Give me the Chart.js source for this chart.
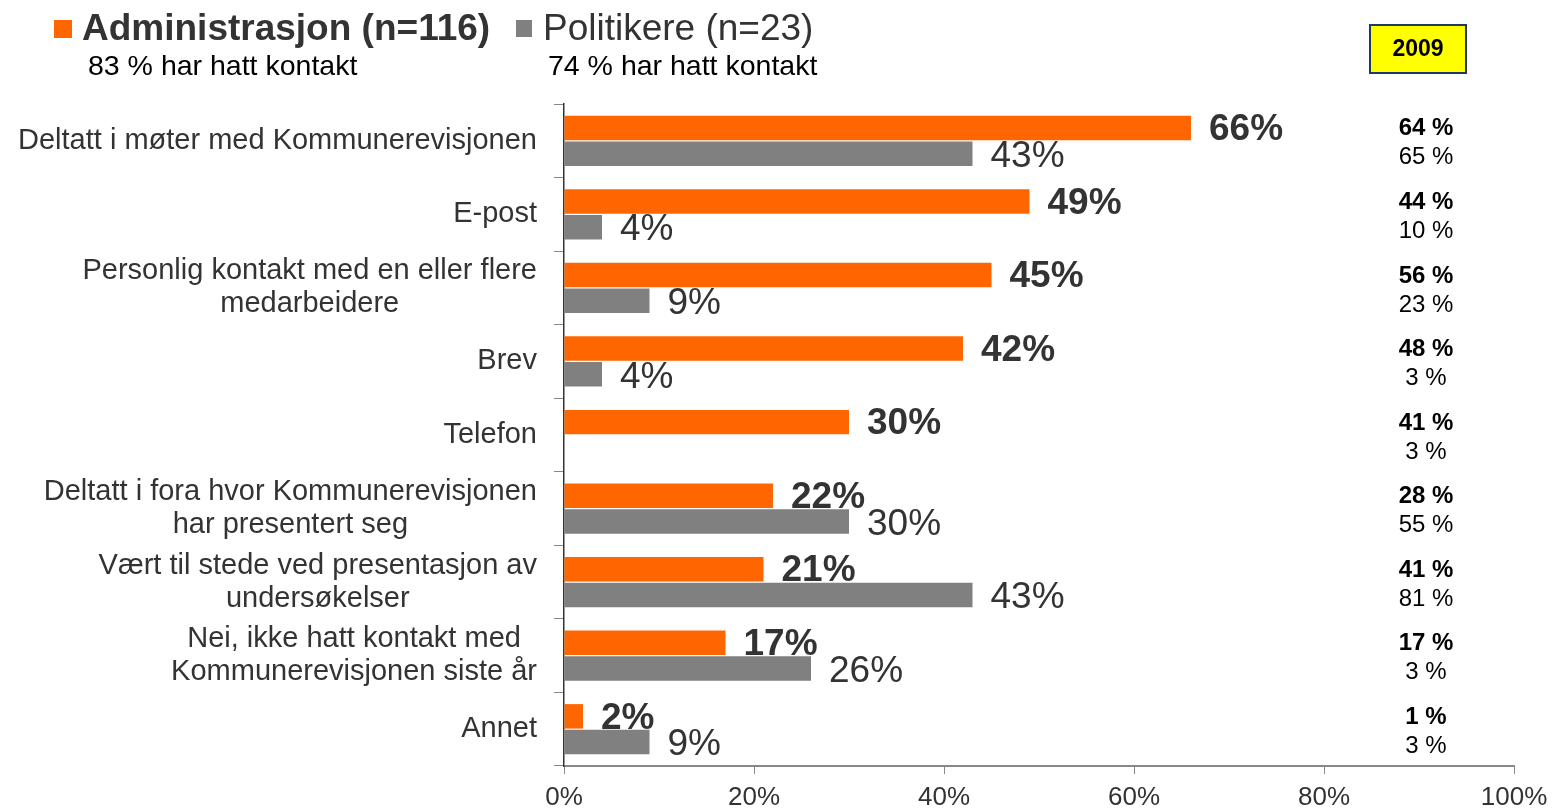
<!DOCTYPE html>
<html>
<head>
<meta charset="utf-8">
<script src="https://cdn.jsdelivr.net/npm/chart.js@4/dist/chart.umd.min.js"></script>
<style>
  html, body { margin: 0; padding: 0; background: #fff; }
  #wrap { width: 1552px; height: 809px; position: relative; }
</style>
</head>
<body>
<div id="wrap"><canvas id="chartKontakt"></canvas></div>
<script>
// === Data ===
const kategorier = [
  "Deltatt i møter med Kommunerevisjonen",
  "E-post",
  ["Personlig kontakt med en eller flere", "medarbeidere"],
  "Brev",
  "Telefon",
  ["Deltatt i fora hvor Kommunerevisjonen", "har presentert seg"],
  ["Vært til stede ved presentasjon av", "undersøkelser"],
  ["Nei, ikke hatt kontakt med ", "Kommunerevisjonen siste år"],
  "Annet"
];
const administrasjon = [66, 49, 45, 42, 30, 22, 21, 17, 2];
const politikere = [43, 4, 9, 4, null, 30, 43, 26, 9];
const admin2009 = [64, 44, 56, 48, 41, 28, 41, 17, 1];
const pol2009 = [65, 10, 23, 3, 3, 55, 81, 3, 3];
const xTicks = [0, 20, 40, 60, 80, 100];

const oransje = "#FF6600";
const graa = "#808080";
const tekst = "#333333";
const fontNavn = "'Liberation Sans', Arial, sans-serif";

// === Tekst, etiketter og 2009-kolonne ===
const tegnTekst = {
  id: "tegnTekst",
  afterDatasetsDraw(chart) {
    const ctx = chart.ctx;
    ctx.save();
    ctx.textBaseline = "middle";
    ctx.textAlign = "left";
    // verdier ved stolpene
    const mA = chart.getDatasetMeta(0);
    const mP = chart.getDatasetMeta(1);
    mA.data.forEach((bar, i) => {
      if (administrasjon[i] == null) return;
      ctx.fillStyle = tekst;
      ctx.font = "bold 37px " + fontNavn;
      ctx.fillText(administrasjon[i] + "%", bar.x + 18, bar.y + 2);
    });
    mP.data.forEach((bar, i) => {
      if (politikere[i] == null) return;
      ctx.fillStyle = tekst;
      ctx.font = "37px " + fontNavn;
      ctx.fillText(politikere[i] + "%", bar.x + 18, bar.y + 3);
    });
    ctx.restore();
  },
  afterDraw(chart) {
    const ctx = chart.ctx;
    const y = chart.scales.y;
    ctx.save();
    ctx.textBaseline = "middle";

    // kategorietiketter (blokk høyrejustert, linjer sentrert)
    ctx.fillStyle = tekst;
    ctx.font = "29px " + fontNavn;
    kategorier.forEach((lab, i) => {
      const linjer = Array.isArray(lab) ? lab : [lab];
      const maks = Math.max(...linjer.map(l => ctx.measureText(l.trim()).width));
      const midt = 537 - maks / 2;
      const cy = y.getPixelForTick(i);
      const lh = 33;
      linjer.forEach((l, j) => {
        ctx.textAlign = "center";
        ctx.fillText(l.trim(), midt, cy + (j - (linjer.length - 1) / 2) * lh);
      });
    });

    // 2009-kolonne
    ctx.textAlign = "center";
    ctx.fillStyle = "#000";
    kategorier.forEach((lab, i) => {
      const cy = y.getPixelForTick(i);
      ctx.font = "bold 24px " + fontNavn;
      ctx.fillText(admin2009[i] + " %", 1426, cy - 12);
      ctx.font = "24px " + fontNavn;
      ctx.fillText(pol2009[i] + " %", 1426, cy + 17);
    });

    // 2009-boks
    ctx.fillStyle = "#FFFF00";
    ctx.fillRect(1370, 25, 96, 48);
    ctx.strokeStyle = "#1F3864";
    ctx.lineWidth = 2;
    ctx.strokeRect(1370, 25, 96, 48);
    ctx.fillStyle = "#000";
    ctx.font = "bold 23px " + fontNavn;
    ctx.fillText("2009", 1418, 50);

    // forklaring
    ctx.textAlign = "left";
    ctx.textBaseline = "alphabetic";
    ctx.fillStyle = oransje;
    ctx.fillRect(54, 20, 18, 18);
    ctx.fillStyle = tekst;
    ctx.font = "bold 37px " + fontNavn;
    ctx.fillText("Administrasjon (n=116)", 82, 40);
    ctx.fillStyle = graa;
    ctx.fillRect(516, 20, 16, 17);
    ctx.fillStyle = tekst;
    ctx.font = "37px " + fontNavn;
    ctx.fillText("Politikere (n=23)", 543, 40);
    ctx.fillStyle = "#000";
    ctx.font = "28.5px " + fontNavn;
    ctx.textBaseline = "middle";
    ctx.fillText("83 % har hatt kontakt", 88, 67);
    ctx.fillText("74 % har hatt kontakt", 548, 67);
    ctx.restore();
  }
};

new Chart(document.getElementById("chartKontakt"), {
  type: "bar",
  data: {
    labels: kategorier,
    datasets: [
      {
        label: "Administrasjon (n=116)",
        data: administrasjon,
        backgroundColor: oransje,
        categoryPercentage: 0.7,
        barPercentage: 0.95
      },
      {
        label: "Politikere (n=23)",
        data: politikere,
        backgroundColor: graa,
        categoryPercentage: 0.7,
        barPercentage: 0.95
      }
    ]
  },
  options: {
    indexAxis: "y",
    responsive: true,
    maintainAspectRatio: false,
    animation: false,
    layout: {
      padding: { top: 104, right: 38, left: 0, bottom: 0 }
    },
    plugins: {
      legend: { display: false },
      tooltip: { enabled: false }
    },
    scales: {
      x: {
        type: "linear",
        min: 0,
        max: 100,
        afterBuildTicks: (s) => { s.ticks = xTicks.map(v => ({ value: v })); },
        afterFit: (s) => {
          s.height = 43;
          s.paddingLeft = 0;
          s.paddingRight = 0;
        },
        ticks: {
          callback: (v) => v + "%",
          color: tekst,
          font: { family: fontNavn, size: 26 },
          padding: 8,
          maxRotation: 0
        },
        grid: {
          drawOnChartArea: false,
          drawTicks: true,
          tickLength: 8,
          color: "#888"
        },
        border: { color: "#888", width: 2 }
      },
      y: {
        afterFit: (s) => { s.width = 564; },
        ticks: { color: "rgba(0,0,0,0)", font: { size: 12 } },
        grid: {
          offset: true,
          drawOnChartArea: false,
          drawTicks: true,
          tickLength: 10,
          color: "#888"
        },
        border: { color: "#333", width: 1.5 }
      }
    }
  },
  plugins: [tegnTekst]
});
</script>
</body>
</html>
